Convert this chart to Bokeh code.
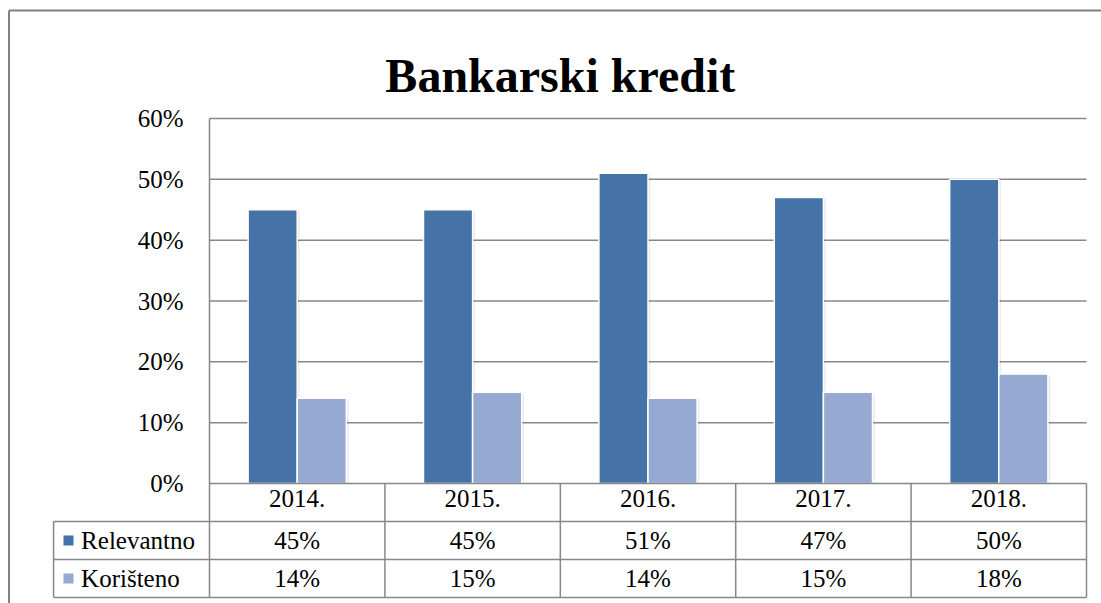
from bokeh.plotting import figure
from bokeh.models import LinearAxis, FixedTicker, Range1d
from bokeh.core.properties import value
from bokeh.embed import file_html
from bokeh.resources import INLINE

# ---- data ----
years = ["2014.", "2015.", "2016.", "2017.", "2018."]
series_names = ["Relevantno", "Korišteno"]
relevantno = [0.45, 0.45, 0.51, 0.47, 0.50]
koristeno = [0.14, 0.15, 0.14, 0.15, 0.18]
y_ticks = [0, 0.1, 0.2, 0.3, 0.4, 0.5, 0.6]
y_tick_labels = ["0%", "10%", "20%", "30%", "40%", "50%", "60%"]
title_text = "Bankarski kredit"

# ---- style ----
FONT = "Liberation Serif"
FS = "25px"
DARK = "#4572A7"
LIGHT = "#95A9D2"
GRID = "#878787"
BORDER = "#808080"

W, H = 1101, 603
X0, X1 = -1.6916, 4.5855
Y0, Y1 = -0.19726, 0.79398
RH = 0.0625          # table row height (data units)
LEG_X = -1.389       # left edge of the table legend column
BAR_W = 0.28

xs = list(range(len(years)))

p = figure(width=W, height=H, x_range=Range1d(X0, X1), y_range=Range1d(Y0, Y1),
           x_axis_type=None, y_axis_type=None, toolbar_location=None,
           output_backend="svg", min_border=0, title=None)
p.outline_line_color = None
p.background_fill_color = "white"
p.border_fill_color = "white"
p.xgrid.visible = False
p.ygrid.visible = False

# outer chart border (left + top)
p.segment(x0=[-1.643, -1.643], y0=[Y0, 0.7775], x1=[-1.643, X1], y1=[0.7775, 0.7775],
          line_color=BORDER, line_width=2)

# gridlines
p.segment(x0=[-0.5] * (len(y_ticks) - 1), x1=[4.5] * (len(y_ticks) - 1),
          y0=y_ticks[1:], y1=y_ticks[1:], line_color=GRID, line_width=1.5)

# bar shadows
p.vbar(x=[i - BAR_W / 2 + 0.008 for i in xs], top=[v - 0.002 for v in relevantno], bottom=0,
       width=BAR_W + 0.01, fill_color="black", fill_alpha=0.08, line_color=None)
p.vbar(x=[i + BAR_W / 2 + 0.008 for i in xs], top=[v - 0.002 for v in koristeno], bottom=0,
       width=BAR_W + 0.01, fill_color="black", fill_alpha=0.08, line_color=None)
# bars
p.vbar(x=[i - BAR_W / 2 for i in xs], top=relevantno, bottom=0, width=BAR_W,
       fill_color=DARK, line_color="white", line_width=1.5)
p.vbar(x=[i + BAR_W / 2 for i in xs], top=koristeno, bottom=0, width=BAR_W,
       fill_color=LIGHT, line_color="white", line_width=1.5)

# data table lines
hy = [-RH, -2 * RH, -3 * RH]
p.segment(x0=[LEG_X] * 3, x1=[4.5] * 3, y0=hy, y1=hy, line_color=GRID, line_width=1.5)
vx = [i + 0.5 for i in xs]
p.segment(x0=vx, x1=vx, y0=[0] * len(vx), y1=[-3 * RH] * len(vx), line_color=GRID, line_width=1.5)
p.segment(x0=[LEG_X], x1=[LEG_X], y0=[-RH], y1=[-3 * RH], line_color=GRID, line_width=1.5)

# table values
for vals, row in ((relevantno, 1.5), (koristeno, 2.5)):
    p.text(x=xs, y=[-row * RH] * len(xs), text=[f"{round(v * 100)}%" for v in vals],
           text_align="center", text_baseline="middle", text_font=value(FONT),
           text_font_size=FS, text_color="black")

# table legend
p.scatter(x=[-1.304, -1.304], y=[-1.5 * RH, -2.5 * RH], marker="square", size=10,
          fill_color=[DARK, LIGHT], line_color=None)
p.text(x=[-1.232, -1.232], y=[-1.5 * RH, -2.5 * RH], text=series_names, text_align="left",
       text_baseline="middle", text_font=value(FONT), text_font_size=FS, text_color="black")

# title
p.text(x=[1.5], y=[0.6707], text=[title_text], text_align="center", text_baseline="alphabetic",
       text_font=value(FONT), text_font_size="48px", text_font_style="bold", text_color="black")

# axes
yaxis = LinearAxis(fixed_location=-0.5, ticker=FixedTicker(ticks=y_ticks),
                   major_label_overrides={t: l for t, l in zip(y_ticks, y_tick_labels)},
                   bounds=(-3 * RH, 0.6))
yaxis.major_tick_in = 0
yaxis.major_tick_out = 0
yaxis.minor_tick_in = 0
yaxis.minor_tick_out = 0
yaxis.major_label_standoff = 26
yaxis.axis_line_color = GRID
yaxis.axis_line_width = 1.5
yaxis.major_label_text_font = FONT
yaxis.major_label_text_font_size = FS
yaxis.major_label_text_color = "black"
p.add_layout(yaxis, "left")

xaxis = LinearAxis(fixed_location=0, ticker=FixedTicker(ticks=xs),
                   major_label_overrides={i: y for i, y in zip(xs, years)},
                   bounds=(-0.5, 4.5))
xaxis.major_tick_in = 0
xaxis.major_tick_out = 0
xaxis.minor_tick_in = 0
xaxis.minor_tick_out = 0
xaxis.major_label_standoff = 6
xaxis.axis_line_color = GRID
xaxis.axis_line_width = 1.5
xaxis.major_label_text_font = FONT
xaxis.major_label_text_font_size = FS
xaxis.major_label_text_color = "black"
p.add_layout(xaxis, "below")

open("out.html", "w").write(file_html(p, INLINE))
